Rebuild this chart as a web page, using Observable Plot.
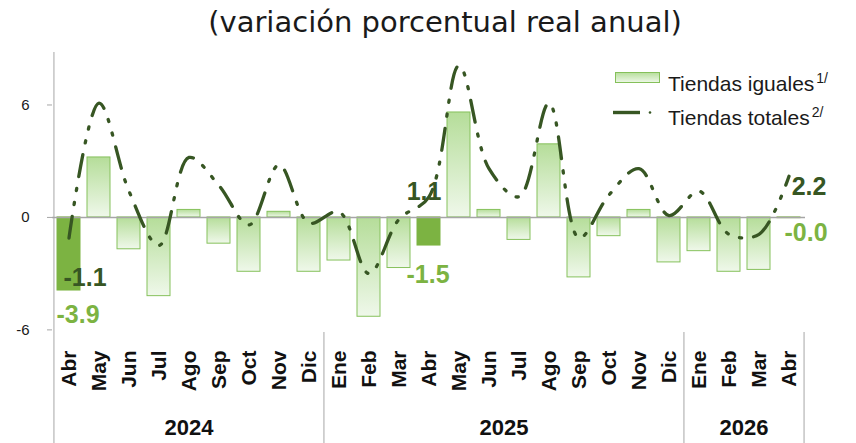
<!DOCTYPE html>
<html><head><meta charset="utf-8">
<script src="https://cdn.jsdelivr.net/npm/d3@7"></script>
<script src="https://cdn.jsdelivr.net/npm/@observablehq/plot@0.6"></script>
<style>
body{margin:0;background:#fff;}
#wrap{position:relative;width:856px;height:443px;overflow:hidden;font-family:"Liberation Sans",Arial,sans-serif;color:#1a1a1a;}
#title{height:45px;line-height:44px;text-align:center;font-family:"DejaVu Sans",sans-serif;font-size:29px;padding-left:34px;box-sizing:border-box;white-space:nowrap;color:#1a1a1a;}
#legend{position:absolute;left:612px;top:63px;font-size:21px;}
#legend .row{position:relative;height:34px;}
#legend .lbl{position:absolute;left:56px;top:0;white-space:nowrap;line-height:30px;}
#legend sup{font-size:14px;vertical-align:8px;margin-left:2px;}
#legend svg{position:absolute;left:0;top:0;}
svg text{font-family:"Liberation Sans",Arial,sans-serif;}
</style></head><body>
<div id="wrap">
  <div id="title">(variación porcentual real anual)</div>
  <div id="chart"></div>
  <div id="legend">
    <div class="row">
      <svg width="52" height="30"><defs><linearGradient id="lg" x1="0" y1="0" x2="0" y2="1"><stop offset="0" stop-color="#b7de9c"/><stop offset="1" stop-color="#eef8e8"/></linearGradient></defs><rect x="3.5" y="9.5" width="44" height="10" fill="url(#lg)" stroke="#85c05a"/></svg>
      <span class="lbl">Tiendas iguales<sup>1/</sup></span>
    </div>
    <div class="row">
      <svg width="52" height="30"><line x1="1" y1="15.5" x2="28" y2="15.5" stroke="#375623" stroke-width="3.4"/><circle cx="38" cy="15.5" r="1.3" fill="#375623"/></svg>
      <span class="lbl">Tiendas totales<sup>2/</sup></span>
    </div>
  </div>
</div>
<script>
// ---- data ----
const months = ["Abr","May","Jun","Jul","Ago","Sep","Oct","Nov","Dic",
  "Ene","Feb","Mar","Abr","May","Jun","Jul","Ago","Sep","Oct","Nov","Dic",
  "Ene","Feb","Mar","Abr"];
const years = [2024,2024,2024,2024,2024,2024,2024,2024,2024,
  2025,2025,2025,2025,2025,2025,2025,2025,2025,2025,2025,2025,
  2026,2026,2026,2026];
const tiendasIguales = [-3.9, 3.2, -1.7, -4.2, 0.4, -1.4, -2.9, 0.3, -2.9,
  -2.3, -5.3, -2.7, -1.5, 5.6, 0.4, -1.2, 3.9, -3.2, -1.0, 0.4, -2.4,
  -1.8, -2.9, -2.8, -0.04];
const tiendasTotales = [-1.1, 6.1, 1.4, -1.5, 3.2, 1.7, -0.4, 2.8, -0.3,
  0.3, -3.0, -0.1, 1.1, 8.1, 2.6, 1.1, 6.1, -1.1, 1.2, 2.6, 0.1,
  1.4, -0.9, -0.9, 2.2];
const yTicks = [-6, 0, 6];
const yearLabels = ["2024", "2025", "2026"];

// ---- layout ----
const W = 856, H = 398, ML = 52, MR = 51, MT = 7, MB = 108;
const n = months.length;
const step = (W - ML - MR) / n;
const fmt = v => (v < 0 ? "-" : "") + Math.abs(v).toFixed(1);
const fmtTick = v => (v < 0 ? "-" : "") + Math.abs(v);

const data = months.map((m, i) => ({
  key: years[i] + "-" + String(i).padStart(2, "0"),
  month: m, year: years[i], iguales: tiendasIguales[i], totales: tiendasTotales[i],
  hi: m === "Abr"
}));
const keys = data.map(d => d.key);
const normal = data.filter(d => !d.hi);
const highlight = data.filter(d => d.hi);

const groups = yearLabels.map(y => {
  const ks = data.filter(d => String(d.year) === y).map(d => d.key);
  return {year: y, first: ks[0], last: ks[ks.length - 1]};
});

const defs = () => {
  const g = d3.create("svg:defs");
  const lg = g.append("linearGradient").attr("id", "barGrad")
    .attr("x1", 0).attr("y1", 0).attr("x2", 0).attr("y2", 1);
  lg.append("stop").attr("offset", 0).attr("stop-color", "#b5dd99");
  lg.append("stop").attr("offset", 1).attr("stop-color", "#eff8ea");
  return g.node();
};

const darkG = "#375623", lightG = "#7cb342";
const lblFont = {fontSize: 25, fontWeight: "bold"};
const pick = (i) => [data[i]];

const yearMarks = groups.map(g => {
  const iFirst = keys.indexOf(g.first), iLast = keys.indexOf(g.last);
  const mid = (iFirst + iLast) / 2;
  const base = Math.floor(mid);
  return Plot.text([g], {x: () => keys[base], text: "year", frameAnchor: "bottom",
    dx: (mid - base) * step, dy: 99, fontSize: 22, fontWeight: "bold", fill: "#111"});
});

const chart = Plot.plot({
  width: W, height: H,
  marginLeft: ML, marginRight: MR, marginTop: MT, marginBottom: MB,
  x: {domain: keys, type: "band", paddingInner: 0.23, paddingOuter: 0.115, axis: null},
  y: {domain: [-6.3, 8.8], axis: null},
  style: {fontFamily: "Liberation Sans, Arial, sans-serif", overflow: "visible"},
  marks: [
    defs,
    Plot.barY(normal, {x: "key", y: "iguales", fill: "url(#barGrad)", stroke: "#86c15c", strokeWidth: 1}),
    Plot.barY(highlight, {x: "key", y: "iguales", fill: lightG, stroke: lightG, strokeWidth: 1}),
    Plot.ruleY([0], {stroke: "#a6a6a6", strokeWidth: 1.5}),
    Plot.line(data, {x: "key", y: "totales", curve: "catmull-rom", stroke: darkG,
      strokeWidth: 3.3, strokeDasharray: "22,12,2.2,12,2.2,12"}),
    Plot.ruleX([keys[0]], {dx: -step / 2, stroke: "#a6a6a6", strokeWidth: 1, insetBottom: -MB}),
    Plot.ruleX(groups.slice(1).map(g => g.first), {dx: -step / 2, stroke: "#a6a6a6", strokeWidth: 1,
      insetTop: (H - MT - MB) - 3, insetBottom: -MB}),
    Plot.ruleX([keys[n - 1]], {dx: step / 2, stroke: "#a6a6a6", strokeWidth: 1,
      insetTop: (H - MT - MB) - 3, insetBottom: -MB}),
    Plot.axisY({ticks: yTicks, tickFormat: fmtTick, tickSize: 5, tickPadding: 18, fontSize: 15,
      stroke: "#a6a6a6", fill: "#1a1a1a"}),
    Plot.text(data, {x: "key", text: "month", frameAnchor: "bottom", dy: 15, rotate: -90,
      textAnchor: "end", lineAnchor: "middle", fontSize: 21, fontWeight: "bold", fill: "#111"}),
    ...yearMarks,
    Plot.text(pick(0), {x: "key", y: "iguales", text: d => fmt(d.iguales), dx: 9, dy: 24, fill: lightG, ...lblFont}),
    Plot.text(pick(12), {x: "key", y: "iguales", text: d => fmt(d.iguales), dx: -1, dy: 29, fill: lightG, ...lblFont}),
    Plot.text(pick(24), {x: "key", y: "iguales", text: d => fmt(d.iguales), dx: 17, dy: 15, fill: lightG, ...lblFont}),
    Plot.text(pick(0), {x: "key", y: "totales", text: d => fmt(d.totales), dx: 16, dy: 40, fill: darkG, ...lblFont}),
    Plot.text(pick(12), {x: "key", y: "totales", text: d => fmt(d.totales), dx: -5, dy: -5, fill: darkG, ...lblFont}),
    Plot.text(pick(24), {x: "key", y: "totales", text: d => fmt(d.totales), dx: 20, dy: 11, fill: darkG, ...lblFont})
  ]
});
document.getElementById("chart").appendChild(chart);
</script>
</body></html>
